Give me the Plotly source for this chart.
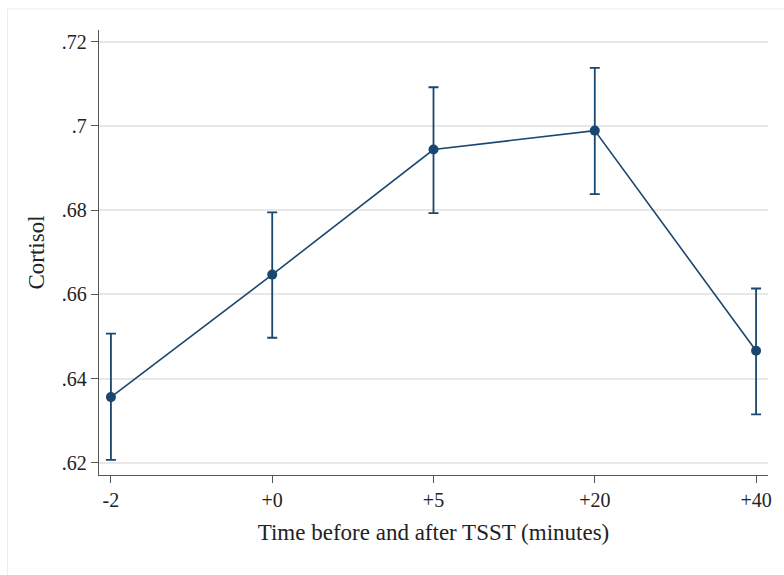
import plotly.graph_objects as go

categories = ["-2", "+0", "+5", "+20", "+40"]
cortisol = [0.6356, 0.6647, 0.6944, 0.6989, 0.6466]
ci_upper = [0.6507, 0.6795, 0.7092, 0.7138, 0.6614]
ci_lower = [0.6207, 0.6497, 0.6793, 0.6838, 0.6315]
y_ticks = [0.62, 0.64, 0.66, 0.68, 0.70, 0.72]
y_tick_labels = [".62", ".64", ".66", ".68", ".7", ".72"]

navy = "#1a476f"
font_family = "Liberation Serif, DejaVu Serif, serif"

x_idx = list(range(len(categories)))
err_plus = [u - m for u, m in zip(ci_upper, cortisol)]
err_minus = [m - l for m, l in zip(cortisol, ci_lower)]

fig = go.Figure()
fig.add_trace(go.Scatter(
    x=x_idx, y=cortisol, mode="lines+markers",
    line=dict(color=navy, width=1.6),
    marker=dict(color=navy, size=10),
    error_y=dict(type="data", symmetric=False, array=err_plus, arrayminus=err_minus,
                 color=navy, thickness=1.8, width=5),
    showlegend=False,
))

# light outer frame (Stata graph region)
fig.add_shape(type="rect", xref="paper", yref="paper",
              x0=-92/673, x1=1.1, y0=-0.5, y1=1 + 21/445,
              line=dict(color="#ececec", width=1), fillcolor="rgba(0,0,0,0)", layer="below")

fig.update_layout(
    width=784, height=575,
    margin=dict(l=99, r=12, t=30, b=100),
    paper_bgcolor="white", plot_bgcolor="white",
    font=dict(family=font_family, color="#222222"),
    xaxis=dict(
        range=[-0.074, 4.074],
        tickmode="array", tickvals=x_idx, ticktext=categories,
        ticks="outside", ticklen=7, tickcolor="#555555", tickwidth=1,
        showline=True, linecolor="#555555", linewidth=1.3,
        showgrid=False, zeroline=False,
        tickfont=dict(size=20, family=font_family, color="#222222"),
        title=dict(text="Time before and after TSST (minutes)",
                   font=dict(size=23, family=font_family, color="#222222"), standoff=13),
    ),
    yaxis=dict(
        range=[0.6171, 0.7228],
        tickmode="array", tickvals=y_ticks, ticktext=y_tick_labels,
        ticks="outside", ticklen=7, tickcolor="#555555", tickwidth=1,
        showline=True, linecolor="#555555", linewidth=1.3,
        showgrid=True, gridcolor="#e8e8e8", gridwidth=1.5, zeroline=False,
        tickfont=dict(size=20, family=font_family, color="#222222"),
        title=dict(text="Cortisol", font=dict(size=23, family=font_family, color="#222222"), standoff=10),
    ),
)

fig.write_html("out.html")
